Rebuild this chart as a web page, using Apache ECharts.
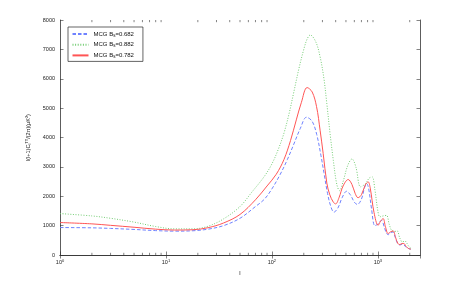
<!DOCTYPE html>
<html><head><meta charset="utf-8">
<script src="https://cdn.jsdelivr.net/npm/echarts@6/dist/echarts.min.js"></script>
<style>html,body{margin:0;padding:0;background:#fff}#c{width:463px;height:287px}</style>
</head><body><div id="c"></div>
<script>
// ---- data ----
const seriesNames = ['MCG B{sub|s}=0.682', 'MCG B{sub|s}=0.882', 'MCG B{sub|s}=0.782'];
const blueL = [1,2,3,5,8,12,18,25,35,50,70,85,100,120,140,160,185,212,240,265,290,310,335,360,385,420,460,507,550,600,640,700,750,785,820,870,937,1000,1083,1150,1200,1250,1320,1390,1460,1540,1620,1700,1770,1850,1950,2050];
const blueV = [935,925,905,870,830,812,825,880,1000,1250,1650,1900,2250,2750,3250,3750,4300,4690,4550,4100,3400,2800,2100,1650,1460,1600,1950,2170,2050,1800,1720,1900,2300,2430,2250,1600,1000,1050,1180,950,760,690,760,784,600,390,340,370,340,260,220,195];
const greenL = [1,2,3,5,8,12,18,25,35,50,65,85,100,115,130,145,160,180,200,215,230,260,285,310,330,355,380,410,435,470,520,570,620,687,760,830,884,940,1000,1045,1120,1208,1280,1348,1430,1523,1610,1710,1800,1880,1960,2050];
const greenV = [1410,1330,1250,1120,970,890,890,980,1230,1650,2150,2680,3100,3600,4150,4800,5500,6350,7000,7350,7490,7250,6750,6000,5150,4100,3220,2400,2190,2500,3050,3270,3000,2320,2420,2620,2660,2200,1500,1300,1330,1350,1050,840,800,818,580,443,480,400,290,230];
const redL = [1,2,3,5,8,12,18,25,35,50,70,90,110,130,150,170,190,215,240,264,285,305,330,352,380,400,430,470,525,570,610,650,700,760,810,850,920,1006,1060,1122,1180,1250,1320,1394,1470,1540,1613,1690,1760,1850,1950,2050];
const redV = [1105,1060,1010,945,880,850,860,930,1090,1380,1880,2350,2750,3250,3900,4600,5200,5700,5550,5050,4250,3450,2450,2050,1800,1740,1950,2350,2570,2400,2100,1950,2050,2380,2490,2250,1450,1010,1150,1240,960,730,790,820,600,400,354,390,390,290,220,200];
const yTicks = [0,1000,2000,3000,4000,5000,6000,7000,8000];
const xDecades = [1,10,100,1000];
const minorMult = [2,3,4,5,6,7,8,9];

const zip = (a,b) => a.map((x,i)=>[x,b[i]]);
const yMin = yTicks[0], yMax = yTicks[yTicks.length-1];
const minorTickData = [];
xDecades.forEach(d => minorMult.forEach(m => {
  if (d*m < 2500) { minorTickData.push([d*m, yMin, -1]); minorTickData.push([d*m, yMax, 1]); }
}));

const chart = echarts.init(document.getElementById('c'), null, {renderer:'canvas'});
const axisCol = '#333';
const FONT = 'Liberation Sans, Arial, sans-serif';
const xAxisBase = {
  type:'log', logBase:10, min:1, max:2500,
  axisLine:{show:true, lineStyle:{color:axisCol, width:0.8}},
  axisTick:{show:true, inside:true, length:3.5, lineStyle:{color:axisCol, width:0.6}},
  splitLine:{show:false}
};
const yAxisBase = {
  type:'value', min:yMin, max:yMax, interval:1000,
  axisLine:{show:true, lineStyle:{color:axisCol, width:0.8}},
  axisTick:{show:true, inside:true, length:3.5, lineStyle:{color:axisCol, width:0.6}},
  splitLine:{show:false}
};
const legendRich = {sub:{fontSize:4.5, verticalAlign:'bottom', padding:[3,0,0,0], fontFamily:FONT, color:'#111'}};

const option = {
  animation:false,
  grid:{left:60, right:43, top:20, bottom:32, containLabel:false},
  legend:{
    orient:'vertical', left:68, top:27,
    backgroundColor:'#fff', borderColor:'#222', borderWidth:0.7,
    padding:[3,9,2,3.5],
    itemWidth:16, itemHeight:8, itemGap:2.7,
    itemStyle:{opacity:0},
    data:seriesNames,
    textStyle:{fontSize:6, fontFamily:FONT, color:'#111', lineHeight:8, rich:legendRich},
  },
  xAxis:[
    Object.assign({}, xAxisBase, {
      position:'bottom',
      name:'l', nameLocation:'middle', nameGap:9,
      nameTextStyle:{fontSize:6, fontFamily:FONT, color:'#222'},
      axisLabel:{show:true, margin:4, showMaxLabel:false, fontFamily:FONT, fontSize:5.5, color:'#222',
        formatter: v => '10{sup|' + Math.round(Math.log10(v)) + '}',
        rich:{sup:{fontSize:4, verticalAlign:'top', padding:[0,0,3,0], fontFamily:FONT, color:'#222'}}}
    }),
    Object.assign({}, xAxisBase, {position:'top', axisLabel:{show:false}})
  ],
  yAxis:[
    Object.assign({}, yAxisBase, {
      position:'left',
      name:'l(l+1)C{sub|l}{sup|TT}/(2π)(μK{sup|2})', nameLocation:'middle', nameRotate:90, nameGap:11,
      nameTextStyle:{fontSize:5.5, fontFamily:FONT, color:'#222',
        rich:{sub:{fontSize:4, padding:[3,0,0,0], verticalAlign:'bottom', fontFamily:FONT, color:'#222'},
              sup:{fontSize:4, padding:[0,0,3,0], verticalAlign:'top', fontFamily:FONT, color:'#222'}}},
      axisLabel:{show:true, margin:5, fontFamily:FONT, fontSize:5.5, color:'#222', formatter: v => String(v)}
    }),
    Object.assign({}, yAxisBase, {position:'right', axisLabel:{show:false}})
  ],
  series:[
    {name:seriesNames[0], type:'line', data:zip(blueL, blueV), smooth:0.35, symbol:'none',
     lineStyle:{color:'#6f82ff', width:1, type:[3.5,2]}, itemStyle:{color:'#6f82ff'}, z:3},
    {name:seriesNames[1], type:'line', data:zip(greenL, greenV), smooth:0.35, symbol:'none',
     lineStyle:{color:'#73cc73', width:1, type:[1,1.6]}, itemStyle:{color:'#73cc73'}, z:3},
    {name:seriesNames[2], type:'line', data:zip(redL, redV), smooth:0.35, symbol:'none',
     lineStyle:{color:'#ff5555', width:1, type:'solid'}, itemStyle:{color:'#ff5555'}, z:4},
    {name:'minorTicks', type:'custom', data:minorTickData, silent:true, z:5, clip:false,
     renderItem:(params, api) => {
       const p = api.coord([api.value(0), api.value(1)]);
       const dir = api.value(2);
       return {type:'line', shape:{x1:p[0], y1:p[1], x2:p[0], y2:p[1] + dir*2.2},
               style:{stroke:axisCol, lineWidth:0.6}};
     }}
  ]
};
chart.setOption(option);
</script></body></html>
